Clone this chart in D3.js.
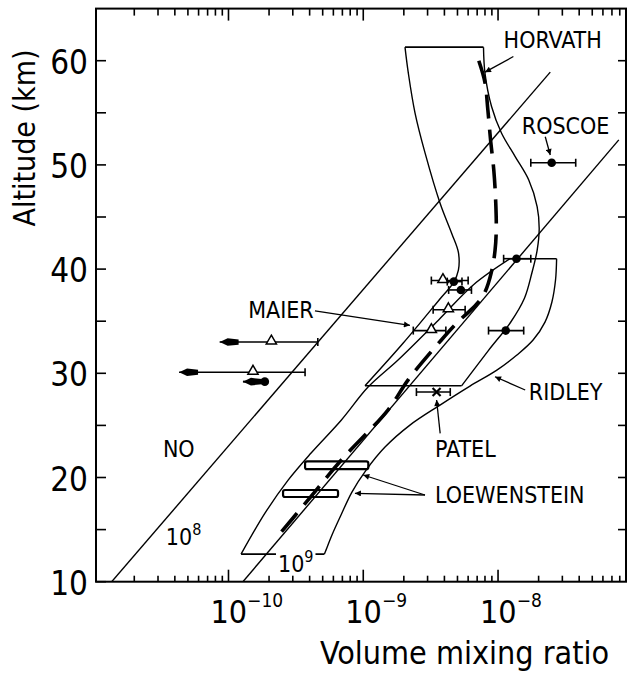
<!DOCTYPE html>
<html><head><meta charset="utf-8">
<script src="https://cdn.jsdelivr.net/npm/d3@7"></script>
<style>
body{margin:0;background:#fff;}
svg text{font-family:"DejaVu Sans Condensed","DejaVu Sans",sans-serif;fill:#000;}
</style></head><body>
<svg id="chart" width="629" height="673"></svg>
<script>
// ---------------- DATA ----------------
const altitudeTicks = [10, 20, 30, 40, 50, 60];
const altitudeMinorTicks = [15, 25, 35, 45, 55];
const rightAxisTicks = [15, 20, 25, 30, 35, 40, 45, 50, 55, 60];
const vmrTickValues = [1e-10, 1e-9, 1e-8];
const vmrTickExponents = ["\u221210", "\u22129", "\u22128"];

// number-density isolines [vmr, altitude km]
const density1e8 = [[1.36e-11, 10], [2.44e-8, 58.9]];
const density1e9 = [[1.28e-10, 10], [7.87e-8, 52.4]];

// upper envelope (28.8 - 61.3 km), boundaries listed top -> bottom
const upperEnvLeft = [[2.04e-9, 61.3], [2.16e-9, 58.8], [2.42e-9, 55.0], [2.88e-9, 51.1], [3.72e-9, 46.3],
  [4.54e-9, 43.4], [5.08e-9, 41.6], [5.08e-9, 39.9], [4.67e-9, 38.7], [3.8e-9, 37.3], [1.98e-9, 32.9], [1.03e-9, 28.8]];
const upperEnvRight = [[7.8e-9, 61.3], [8.0e-9, 58.8], [8.95e-9, 55.6], [1.06e-8, 53.06], [1.34e-8, 50.8],
  [1.69e-8, 48.55], [1.95e-8, 46.0], [2.02e-8, 43.9], [1.95e-8, 41.8], [1.78e-8, 39.6], [1.57e-8, 37.2],
  [1.24e-8, 34.9], [8.5e-9, 32.2], [5.36e-9, 28.8]];

// lower envelope (12.65 - 41 km), boundaries listed top -> bottom
const lowerEnvLeft = [[1.23e-8, 41.0], [6.58e-9, 38.5], [3.61e-9, 35.1], [1.82e-9, 31.3], [1.09e-9, 28.7],
  [6.86e-10, 25.5], [4.1e-10, 22.35], [2.77e-10, 19.75], [1.87e-10, 16.6], [1.24e-10, 12.65]];
const lowerEnvRight = [[2.72e-8, 41.0], [2.67e-8, 38.95], [2.51e-8, 36.84], [2.23e-8, 34.91], [1.82e-8, 33.19],
  [1.38e-8, 31.75], [9.8e-9, 30.3], [6.19e-9, 28.77], [3.71e-9, 26.95], [2.22e-9, 25.03], [1.45e-9, 22.92],
  [1.05e-9, 20.71], [8.24e-10, 18.6], [6.84e-10, 16.4], [5.86e-10, 14.48], [5.29e-10, 13.03], [5.15e-10, 12.65]];

// HORVATH profile
const horvath = [[7.2e-9, 60.0], [8.0e-9, 57.9], [8.4e-9, 55.3], [8.8e-9, 52.4], [9.3e-9, 49.5], [9.6e-9, 46.6],
  [9.7e-9, 43.8], [9.5e-9, 41.8], [9.0e-9, 39.9], [8.0e-9, 37.8], [6.9e-9, 36.6], [5.1e-9, 35.0],
  [3.8e-9, 33.2], [2.16e-9, 29.4], [1.53e-9, 26.5], [6.9e-10, 21.7], [3.9e-10, 17.85], [2.2e-10, 14.0]];

// LOEWENSTEIN boxes [vmrLow, vmrHigh, altLow, altHigh]
const loewensteinBoxes = [[3.7e-10, 1.09e-9, 20.8, 21.55], [2.54e-10, 6.5e-10, 18.13, 18.8]];

// MAIER open triangles with error bars [alt, vmr, lo, hi]
const maierPoints = [[38.9, 3.9e-9, 3.2e-9, 6.0e-9], [36.1, 4.28e-9, 3.3e-9, 5.7e-9], [34.1, 3.2e-9, 2.35e-9, 4.1e-9]];
// MAIER upper limits [alt, vmr, arrowTip, hi]
const maierLimits = [[33.0, 2.08e-10, 8.6e-11, 4.6e-10], [30.1, 1.52e-10, 4.3e-11, 3.7e-10]];
// filled circles [alt, vmr, lo, hi]
const circlePoints = [[50.2, 2.5e-8, 1.75e-8, 3.77e-8], [41.0, 1.37e-8, 1.1e-8, 1.75e-8],
  [38.8, 4.7e-9, 4.2e-9, 5.4e-9], [38.0, 5.3e-9, 4.3e-9, 6.35e-9], [34.1, 1.14e-8, 8.5e-9, 1.55e-8]];
// filled circle upper limit [alt, vmr, arrowTip]
const circleLimits = [[29.2, 1.86e-10, 1.28e-10]];
// PATEL [alt, vmr, lo, hi]
const patelPoints = [[28.2, 3.5e-9, 2.48e-9, 4.42e-9]];

// labels [text, vmr, alt(baseline)]
const labels = [["HORVATH", 1.1e-8, 61.2], ["ROSCOE", 1.5e-8, 53.0], ["MAIER", 1.4e-10, 35.28],
  ["RIDLEY", 1.69e-8, 27.44], ["PATEL", 3.41e-9, 21.97], ["LOEWENSTEIN", 3.41e-9, 17.55], ["NO", 3.26e-11, 21.97]];
// leaders [fromVmr, fromAlt, toVmr, toAlt]
const leaders = [[1.3e-8, 60.4, 8.0e-9, 58.9], [2.24e-8, 52.7, 2.44e-8, 50.95], [4.38e-10, 36.0, 2.22e-9, 34.6],
  [1.59e-8, 28.4, 9.5e-9, 29.67], [3.72e-9, 24.24, 3.5e-9, 27.44], [2.87e-9, 18.32, 1.0e-9, 20.24],
  [2.87e-9, 18.32, 8.67e-10, 18.48]];
// isoline labels [base, exponent, vmr, alt]
const isoLabels = [["10", "8", 3.43e-11, 13.52], ["10", "9", 2.33e-10, 10.93]];

// ---------------- CHART ----------------
const svg = d3.select("#chart");
const x = d3.scaleLog().domain([1.04e-11, 8.9e-8]).range([96, 626]);
const y = d3.scaleLinear().domain([10, 65]).range([581.7, 8.6]);
const [X0, X1] = x.range(), [Y0, Y1] = y.range();

svg.append("defs").append("clipPath").attr("id", "clip")
  .append("rect").attr("x", X0).attr("y", Y1).attr("width", X1 - X0).attr("height", Y0 - Y1);
svg.select("defs").append("marker").attr("id", "arr").attr("viewBox", "0 0 10 10")
  .attr("refX", 10).attr("refY", 5).attr("markerWidth", 9).attr("markerHeight", 6)
  .attr("markerUnits", "userSpaceOnUse").attr("orient", "auto")
  .append("path").attr("d", "M0,0L10,5L0,10Z").attr("fill", "#000");

const g = svg.append("g").attr("clip-path", "url(#clip)");
const lineLin = d3.line().x(d => x(d[0])).y(d => y(d[1]));
const lineCurve = d3.line().x(d => x(d[0])).y(d => y(d[1])).curve(d3.curveCatmullRom.alpha(0.5));

// isolines
[density1e8, density1e9].forEach(d => g.append("path").attr("d", lineLin(d))
  .attr("fill", "none").attr("stroke", "#000").attr("stroke-width", 1.4));

// envelopes
function envelope(left, right) {
  [left, right].forEach(b => g.append("path").attr("d", lineCurve(b))
    .attr("fill", "none").attr("stroke", "#000").attr("stroke-width", 1.4));
  g.append("path").attr("d", lineLin([left[0], right[0]])).attr("fill", "none").attr("stroke", "#000").attr("stroke-width", 1.6);
  g.append("path").attr("d", lineLin([left[left.length - 1], right[right.length - 1]])).attr("fill", "none").attr("stroke", "#000").attr("stroke-width", 1.6);
}
envelope(upperEnvLeft, upperEnvRight);
envelope(lowerEnvLeft, lowerEnvRight);

// Horvath dashed
g.append("path").attr("d", lineCurve(horvath)).attr("fill", "none").attr("stroke", "#000")
  .attr("stroke-width", 3.6).attr("stroke-dasharray", "24,11");

// Loewenstein boxes
loewensteinBoxes.forEach(b => g.append("rect")
  .attr("x", x(b[0])).attr("y", y(b[3])).attr("width", x(b[1]) - x(b[0])).attr("height", y(b[2]) - y(b[3]))
  .attr("rx", 2).attr("fill", "none").attr("stroke", "#000").attr("stroke-width", 2.2));

// error bar helper
function bar(alt, lo, hi, leftCap = true) {
  const yy = y(alt);
  g.append("line").attr("x1", x(lo)).attr("x2", x(hi)).attr("y1", yy).attr("y2", yy).attr("stroke", "#000").attr("stroke-width", 1.6);
  if (leftCap) g.append("line").attr("x1", x(lo)).attr("x2", x(lo)).attr("y1", yy - 4).attr("y2", yy + 4).attr("stroke", "#000").attr("stroke-width", 1.6);
  g.append("line").attr("x1", x(hi)).attr("x2", x(hi)).attr("y1", yy - 4).attr("y2", yy + 4).attr("stroke", "#000").attr("stroke-width", 1.6);
}
function arrowHead(alt, tip) {
  const yy = y(alt), t = x(tip);
  g.append("path").attr("d", `M${t},${yy}L${t + 8},${yy - 3.8}L${t + 19},${yy - 2.6}L${t + 19},${yy + 2.6}L${t + 8},${yy + 3.8}Z`).attr("fill", "#000");
}
const tri = d3.symbol().type(d3.symbolTriangle).size(45);

maierPoints.forEach(p => {
  bar(p[0], p[2], p[3]);
  g.append("path").attr("d", tri()).attr("transform", `translate(${x(p[1])},${y(p[0]) - 1})`)
    .attr("fill", "#fff").attr("stroke", "#000").attr("stroke-width", 1.5);
});
maierLimits.forEach(p => {
  g.append("line").attr("x1", x(p[2])).attr("x2", x(p[3])).attr("y1", y(p[0])).attr("y2", y(p[0])).attr("stroke", "#000").attr("stroke-width", 1.6);
  g.append("line").attr("x1", x(p[3])).attr("x2", x(p[3])).attr("y1", y(p[0]) - 4).attr("y2", y(p[0]) + 4).attr("stroke", "#000").attr("stroke-width", 1.6);
  arrowHead(p[0], p[2]);
  g.append("path").attr("d", tri()).attr("transform", `translate(${x(p[1])},${y(p[0]) - 1})`)
    .attr("fill", "#fff").attr("stroke", "#000").attr("stroke-width", 1.5);
});
circlePoints.forEach(p => {
  bar(p[0], p[2], p[3]);
  g.append("circle").attr("cx", x(p[1])).attr("cy", y(p[0])).attr("r", 4.3).attr("fill", "#000");
});
circleLimits.forEach(p => {
  g.append("line").attr("x1", x(p[2])).attr("x2", x(p[1])).attr("y1", y(p[0])).attr("y2", y(p[0])).attr("stroke", "#000").attr("stroke-width", 2);
  arrowHead(p[0], p[2]);
  g.append("circle").attr("cx", x(p[1])).attr("cy", y(p[0])).attr("r", 4.3).attr("fill", "#000");
});
patelPoints.forEach(p => {
  bar(p[0], p[2], p[3]);
  const cx = x(p[1]), cy = y(p[0]);
  g.append("path").attr("d", `M${cx - 4},${cy - 4}L${cx + 4},${cy + 4}M${cx - 4},${cy + 4}L${cx + 4},${cy - 4}`)
    .attr("stroke", "#000").attr("stroke-width", 2.2);
});

// leaders
leaders.forEach(l => svg.append("line").attr("x1", x(l[0])).attr("y1", y(l[1])).attr("x2", x(l[2])).attr("y2", y(l[3]))
  .attr("stroke", "#000").attr("stroke-width", 1.3).attr("marker-end", "url(#arr)"));

// labels
labels.forEach(l => svg.append("text").attr("x", x(l[1])).attr("y", y(l[2])).attr("font-size", 23).text(l[0]));
isoLabels.forEach(l => {
  const t = svg.append("text").attr("x", x(l[2])).attr("y", y(l[3])).attr("font-size", 23);
  t.append("tspan").text(l[0]);
  t.append("tspan").attr("dy", -10).attr("font-size", 16).text(l[1]);
  const bb = t.node().getBBox();
  svg.insert("rect", () => t.node()).attr("x", bb.x - 2).attr("y", bb.y + 4).attr("width", bb.width + 4).attr("height", bb.height - 6).attr("fill", "#fff");
});

// ---------------- AXES ----------------
const ax = svg.append("g");
const logTicks = x.ticks();
const majors = logTicks.filter(v => Math.abs(Math.log10(v) - Math.round(Math.log10(v))) < 1e-6);
const minors = logTicks.filter(v => !majors.includes(v));
function tickLines(vals, len, side) {
  vals.forEach(v => {
    const xx = x(v);
    if (side === "b") ax.append("line").attr("x1", xx).attr("x2", xx).attr("y1", Y0).attr("y2", Y0 - len);
    else ax.append("line").attr("x1", xx).attr("x2", xx).attr("y1", Y1).attr("y2", Y1 + len);
  });
}
tickLines(majors, 12, "b"); tickLines(minors, 6, "b");
tickLines(majors, 12, "t"); tickLines(minors, 7, "t");
altitudeTicks.concat(altitudeMinorTicks).forEach(v => ax.append("line").attr("x1", X0).attr("x2", X0 + 10).attr("y1", y(v)).attr("y2", y(v)));
rightAxisTicks.forEach(v => ax.append("line").attr("x1", X1).attr("x2", X1 - 8).attr("y1", y(v)).attr("y2", y(v)));
ax.selectAll("line").attr("stroke", "#000").attr("stroke-width", 1.6);
ax.append("rect").attr("x", X0).attr("y", Y1).attr("width", X1 - X0).attr("height", Y0 - Y1)
  .attr("fill", "none").attr("stroke", "#000").attr("stroke-width", 2);

altitudeTicks.forEach(v => svg.append("text").attr("x", 88).attr("y", y(v) + 13)
  .attr("text-anchor", "end").attr("font-size", 33).text(v));
vmrTickValues.forEach((v, i) => {
  const t = svg.append("text").attr("x", x(v) - 18).attr("y", 623).attr("font-size", 32);
  t.append("tspan").text("10");
  t.append("tspan").attr("dy", -16).attr("font-size", 19).text(vmrTickExponents[i]);
});
svg.append("text").attr("x", 320).attr("y", 664).attr("font-size", 32).text("Volume mixing ratio");
svg.append("text").attr("transform", "translate(35,138) rotate(-90)").attr("text-anchor", "middle")
  .attr("font-size", 30).text("Altitude (km)");
</script>
</body></html>
